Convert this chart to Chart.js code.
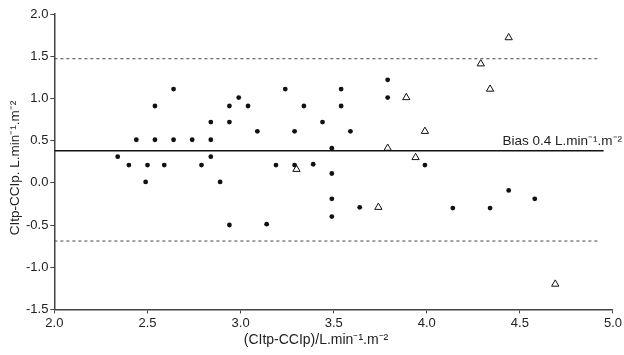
<!DOCTYPE html>
<html>
<head>
<meta charset="utf-8">
<script src="https://cdn.jsdelivr.net/npm/chart.js@4"></script>
<style>
  html, body { margin: 0; padding: 0; background: #fff; }
  #wrap { width: 624px; height: 355px; }
</style>
</head>
<body>
<div id="wrap"><canvas id="bland"></canvas></div>
<script>
// Bland-Altman data
const dotX = [2.34, 2.40, 2.44, 2.50, 2.49, 2.54, 2.54, 2.59, 2.64, 2.64, 2.74, 2.79, 2.84, 2.84, 2.84,
              2.89, 2.94, 2.94, 2.94, 2.99, 3.04, 3.09, 3.14, 3.19, 3.24, 3.29, 3.29, 3.34, 3.39, 3.44,
              3.49, 3.49, 3.49, 3.49, 3.54, 3.54, 3.59, 3.64, 3.79, 3.79, 3.99, 4.14, 4.34, 4.44, 4.58];
const dotY = [0.31, 0.21, 0.51, 0.21, 0.01, 0.91, 0.51, 0.21, 1.11, 0.51, 0.51, 0.21, 0.72, 0.51, 0.31,
              0.01, 0.91, 0.72, -0.50, 1.01, 0.91, 0.61, -0.49, 0.21, 1.11, 0.61, 0.21, 0.91, 0.22, 0.72,
              0.41, 0.11, -0.19, -0.40, 1.11, 0.91, 0.61, -0.29, 1.22, 1.01, 0.21, -0.30, -0.30, -0.09, -0.19];
const triX = [3.30, 3.74, 3.79, 3.89, 3.94, 3.99, 4.29, 4.34, 4.44, 4.69];
const triY = [0.16, -0.29, 0.41, 1.01, 0.30, 0.61, 1.41, 1.11, 1.72, -1.20];

const bias = 0.38;
const upperLoA = 1.47;
const lowerLoA = -0.69;
const lineEnd = [4.95, 4.93];   // x where bias / limit lines stop

const xTicks = [2.0, 2.5, 3.0, 3.5, 4.0, 4.5, 5.0];
const yTicks = [-1.5, -1.0, -0.5, 0.0, 0.5, 1.0, 1.5, 2.0];

const xTitle = '(CItp-CCIp)/L.min\u207B\u00B9.m\u207B\u00B2';
const yTitle = 'CItp-CCIp. L.min\u207B\u00B9.m\u207B\u00B2';
const biasText = 'Bias 0.4 L.min\u207B\u00B9.m\u207B\u00B2';

const fontFamily = '"Liberation Sans", Arial, sans-serif';

const toPoints = (xs, ys) => xs.map((x, i) => ({ x: x, y: ys[i] }));

// axis titles and the bias text, placed by hand like the original figure
const labels = {
    id: 'labels',
    afterDraw(chart) {
        const ctx = chart.ctx;
        const y = chart.scales.y.getPixelForValue(bias);
        ctx.save();
        ctx.fillStyle = '#222';
        ctx.font = '13.5px ' + fontFamily;
        ctx.textAlign = 'right';
        ctx.textBaseline = 'alphabetic';
        ctx.fillText(biasText, 622, y - 6);

        ctx.textAlign = 'center';
        ctx.textBaseline = 'middle';
        ctx.font = '14px ' + fontFamily;
        ctx.fillText(xTitle, 316, 340);

        ctx.translate(15, 168);
        ctx.rotate(-Math.PI / 2);
        ctx.font = '13.5px ' + fontFamily;
        ctx.fillText(yTitle, 0, 0);
        ctx.restore();
    }
};

const ctx = document.getElementById('bland').getContext('2d');
new Chart(ctx, {
    type: 'scatter',
    data: {
        datasets: [
            {
                label: 'bias',
                type: 'line',
                data: [{ x: 2, y: bias }, { x: lineEnd[0], y: bias }],
                borderColor: '#111',
                borderWidth: 1.5,
                pointRadius: 0
            },
            {
                label: 'upper',
                type: 'line',
                data: [{ x: 2, y: upperLoA }, { x: lineEnd[1], y: upperLoA }],
                borderColor: '#444',
                borderWidth: 1,
                borderDash: [3, 3],
                pointRadius: 0
            },
            {
                label: 'lower',
                type: 'line',
                data: [{ x: 2, y: lowerLoA }, { x: lineEnd[1], y: lowerLoA }],
                borderColor: '#444',
                borderWidth: 1,
                borderDash: [3, 3],
                pointRadius: 0
            },
            {
                label: 'dots',
                data: toPoints(dotX, dotY),
                pointStyle: 'circle',
                pointRadius: 2.4,
                backgroundColor: '#111',
                borderColor: '#111',
                borderWidth: 0
            },
            {
                label: 'triangles',
                data: toPoints(triX, triY),
                pointStyle: 'triangle',
                pointRadius: 4.2,
                backgroundColor: '#fff',
                borderColor: '#111',
                borderWidth: 1
            }
        ]
    },
    options: {
        responsive: true,
        maintainAspectRatio: false,
        animation: false,
        layout: { padding: { left: 24, right: -3, top: 14, bottom: 22 } },
        plugins: {
            legend: { display: false },
            tooltip: { enabled: false }
        },
        scales: {
            x: {
                type: 'linear',
                min: 2, max: 5,
                afterBuildTicks: (axis) => { axis.ticks = xTicks.map(v => ({ value: v })); },
                ticks: {
                    color: '#222',
                    font: { family: fontFamily, size: 13 },
                    padding: 2,
                    callback: (v) => v.toFixed(1)
                },
                grid: { drawOnChartArea: false, tickLength: 4, color: '#444' },
                border: { color: '#444', width: 1.5 }
            },
            y: {
                type: 'linear',
                min: -1.5, max: 2,
                afterBuildTicks: (axis) => { axis.ticks = yTicks.map(v => ({ value: v })); },
                ticks: {
                    color: '#222',
                    font: { family: fontFamily, size: 13 },
                    padding: 2,
                    callback: (v) => v.toFixed(1)
                },
                grid: { drawOnChartArea: false, tickLength: 4, color: '#444' },
                border: { color: '#444', width: 1.5 }
            }
        }
    },
    plugins: [labels]
});
</script>
</body>
</html>
